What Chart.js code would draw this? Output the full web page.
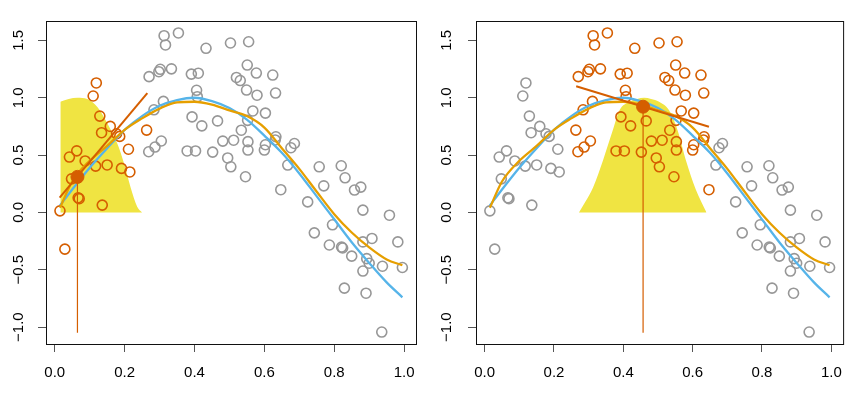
<!DOCTYPE html>
<html>
<head>
<meta charset="utf-8">
<script src="https://cdn.jsdelivr.net/npm/chart.js@4.4.1/dist/chart.umd.min.js"></script>
<style>
    html, body { margin: 0; padding: 0; background: #fff; }
    #wrap { position: relative; width: 854px; height: 393px; }
    .panel { position: absolute; top: 0; width: 427px; height: 393px; }
</style>
</head>
<body>
<div id="wrap">
    <div class="panel" style="left:0"><canvas id="leftPanel" width="427" height="393"></canvas></div>
    <div class="panel" style="left:427px"><canvas id="rightPanel" width="427" height="393"></canvas></div>
</div>
<script>
// observed points (same 100 points in both panels)
const ptX = [0.015, 0.029, 0.042, 0.048, 0.063, 0.067, 0.070, 0.087, 0.110, 0.119, 0.117, 0.129, 0.134, 0.136, 0.150, 0.159, 0.177, 0.186, 0.191, 0.211, 0.215,
    0.263, 0.269, 0.287, 0.305, 0.270, 0.298, 0.302, 0.334, 0.284, 0.311, 0.313, 0.317, 0.354, 0.379, 0.391, 0.393, 0.403, 0.406, 0.408, 0.411,
    0.421, 0.433, 0.452, 0.466, 0.481, 0.495, 0.503, 0.504, 0.512, 0.520, 0.531, 0.534, 0.546, 0.549, 0.551, 0.552, 0.553, 0.553, 0.555, 0.567,
    0.577, 0.579, 0.600, 0.603, 0.603, 0.624, 0.632, 0.633, 0.631, 0.647,
    0.667, 0.676, 0.686, 0.724, 0.743, 0.757, 0.770, 0.786, 0.795, 0.820, 0.821, 0.824, 0.829, 0.831, 0.850, 0.858, 0.876, 0.882, 0.882, 0.882,
    0.891, 0.893, 0.900, 0.908, 0.936, 0.938, 0.958, 0.982, 0.995];
const ptY = [0.014, -0.320, 0.483, 0.293, 0.537, 0.128, 0.120, 0.449, 1.015, 1.129, 0.404, 0.840, 0.695, 0.064, 0.414, 0.750, 0.686, 0.663, 0.384, 0.551, 0.353,
    0.718, 0.529, 0.570, 0.623, 1.184, 1.227, 1.248, 1.252, 0.895, 0.968, 1.541, 1.460, 1.565, 0.536, 1.206, 0.833, 0.536, 1.065, 1.009, 1.214,
    0.755, 1.431, 0.526, 0.798, 0.622, 0.475, 1.477, 0.398, 0.630, 1.177, 1.150, 0.717, 0.311, 1.067, 1.285, 0.803, 0.617, 0.544, 1.488, 0.885,
    1.215, 1.022, 0.544, 0.590, 0.866, 1.198, 1.041, 0.660, 0.632, 0.198,
    0.413, 0.564, 0.601, 0.092, -0.178, 0.398, 0.232, -0.284, -0.108, 0.407, -0.302, -0.310, -0.660, 0.302, -0.381, 0.195, 0.221, 0.020, -0.257, -0.511,
    -0.704, -0.403, -0.443, -0.227, -1.043, -0.469, -0.024, -0.257, -0.480];

// true curve (blue) and local regression fit (gold)
const curveX = [0.015, 0.05, 0.1, 0.15, 0.2, 0.25, 0.3, 0.35, 0.4, 0.45, 0.5, 0.55, 0.6, 0.65, 0.7, 0.75, 0.8, 0.85, 0.9, 0.95, 0.995];
const trueY = [0.06, 0.2, 0.39, 0.56, 0.72, 0.84, 0.93, 0.98, 1.0, 0.97, 0.91, 0.81, 0.67, 0.52, 0.34, 0.14, -0.06, -0.26, -0.44, -0.61, -0.74];
const fitY = [0.04, 0.27, 0.45, 0.58, 0.72, 0.82, 0.905, 0.96, 0.965, 0.94, 0.89, 0.84, 0.74, 0.56, 0.38, 0.18, -0.015, -0.175, -0.305, -0.41, -0.46];

// left panel: weights, window, local line and target point
const leftWindow = [0, 0.265];
const leftWeightX = [0.016, 0.04, 0.065, 0.093, 0.122, 0.15, 0.179, 0.198, 0.217, 0.236, 0.25];
const leftWeightY = [0.965, 0.99, 1.0, 0.99, 0.92, 0.78, 0.6, 0.43, 0.22, 0.05, 0.0];
const leftLineX = [0.014, 0.265];
const leftLineY = [0.13, 1.04];
const leftTarget = [0.065, 0.31];

// right panel
const rightWindow = [0.26, 0.65];
const rightWeightX = [0.272, 0.29, 0.313, 0.342, 0.37, 0.389, 0.418, 0.44, 0.46, 0.48, 0.503, 0.532, 0.556, 0.58, 0.609, 0.64];
const rightWeightY = [0.0, 0.09, 0.22, 0.46, 0.72, 0.89, 0.965, 0.99, 1.0, 0.99, 0.965, 0.89, 0.72, 0.46, 0.2, 0.0];
const rightLineX = [0.264, 0.647];
const rightLineY = [1.10, 0.747];
const rightTarget = [0.457, 0.922];

const xTicks = [0, 0.2, 0.4, 0.6, 0.8, 1.0];
const yTicks = [-1.0, -0.5, 0.0, 0.5, 1.0, 1.5];
const vLineBottom = -1.05;

const GRAY = '#979797';
const VERMILLION = '#D55E00';
const GOLD = '#E69F00';
const BLUE = '#56B4E9';
const YELLOW = '#F0E442';
const FONT = { family: "'Liberation Sans', Arial, sans-serif", size: 15 };

function pts(xs, ys) {
    return xs.map((x, i) => ({ x: x, y: ys[i] }));
}

function fmt(v) {
    return Number(v).toFixed(1).replace('-', '\u2212');
}

// draws the full box around the plot region like R's box()
const boxPlugin = {
    id: 'box',
    afterDraw(chart) {
        const a = chart.chartArea;
        const c = chart.ctx;
        c.save();
        c.strokeStyle = '#111';
        c.lineWidth = 1;
        c.strokeRect(a.left + 0.5, a.top + 0.5, a.right - a.left, a.bottom - a.top);
        c.restore();
    }
};

function drawPanel(id, win, wX, wY, lineX, lineY, target, yWidth, yPad, padRight) {
    const near = { x: [], y: [] };
    const far = { x: [], y: [] };
    ptX.forEach((x, i) => {
        const grp = (x >= win[0] && x <= win[1]) ? near : far;
        grp.x.push(x);
        grp.y.push(ptY[i]);
    });

    const ctx = document.getElementById(id).getContext('2d');
    return new Chart(ctx, {
        type: 'line',
        data: {
            datasets: [
                {   // target point
                    data: pts([target[0]], [target[1]]),
                    showLine: false,
                    pointRadius: 6.5,
                    pointBackgroundColor: VERMILLION,
                    pointBorderColor: VERMILLION,
                    pointBorderWidth: 1
                },
                {   // local linear fit
                    data: pts(lineX, lineY),
                    borderColor: VERMILLION,
                    borderWidth: 2,
                    pointRadius: 0
                },
                {   // vertical marker at target
                    data: pts([target[0], target[0]], [target[1], vLineBottom]),
                    borderColor: VERMILLION,
                    borderWidth: 1.2,
                    pointRadius: 0
                },
                {
                    data: pts(curveX, fitY),
                    borderColor: GOLD,
                    borderWidth: 2.3,
                    pointRadius: 0,
                    cubicInterpolationMode: 'monotone'
                },
                {
                    data: pts(curveX, trueY),
                    borderColor: BLUE,
                    borderWidth: 2.3,
                    pointRadius: 0,
                    cubicInterpolationMode: 'monotone'
                },
                {
                    data: pts(near.x, near.y),
                    showLine: false,
                    pointRadius: 5,
                    pointBorderWidth: 1.6,
                    pointBorderColor: VERMILLION,
                    pointBackgroundColor: 'rgba(0,0,0,0)'
                },
                {
                    data: pts(far.x, far.y),
                    showLine: false,
                    pointRadius: 5,
                    pointBorderWidth: 1.6,
                    pointBorderColor: GRAY,
                    pointBackgroundColor: 'rgba(0,0,0,0)'
                },
                {   // kernel weights
                    data: pts(wX, wY),
                    borderWidth: 0,
                    borderColor: YELLOW,
                    backgroundColor: YELLOW,
                    fill: 'origin',
                    pointRadius: 0,
                    cubicInterpolationMode: 'monotone'
                }
            ]
        },
        options: {
            responsive: false,
            animation: false,
            devicePixelRatio: 1,
            layout: { padding: { top: 21, right: padRight, left: 0, bottom: 0 } },
            plugins: {
                legend: { display: false },
                tooltip: { enabled: false }
            },
            scales: {
                x: {
                    type: 'linear',
                    min: -0.025,
                    max: 1.034,
                    afterBuildTicks: s => { s.ticks = xTicks.map(v => ({ value: v })); },
                    afterFit: s => { s.height = 49; },
                    grid: { drawOnChartArea: false, drawTicks: true, tickLength: 8, tickColor: '#555', tickWidth: 1 },
                    border: { display: false },
                    ticks: { font: FONT, color: '#000', padding: 12, maxRotation: 0, callback: v => fmt(v) }
                },
                y: {
                    type: 'linear',
                    min: -1.147,
                    max: 1.669,
                    afterBuildTicks: s => { s.ticks = yTicks.map(v => ({ value: v })); },
                    afterFit: s => { s.width = yWidth; },
                    grid: { drawOnChartArea: false, drawTicks: true, tickLength: 8, tickColor: '#555', tickWidth: 1 },
                    border: { display: false },
                    ticks: { font: FONT, color: '#000', padding: yPad, minRotation: 90, maxRotation: 90, crossAlign: 'center', callback: v => fmt(v) }
                }
            }
        },
        plugins: [boxPlugin]
    });
}

drawPanel('leftPanel', leftWindow, leftWeightX, leftWeightY, leftLineX, leftLineY, leftTarget, 46, 4, 11);
drawPanel('rightPanel', rightWindow, rightWeightX, rightWeightY, rightLineX, rightLineY, rightTarget, 49, 6, 8);
</script>
</body>
</html>
